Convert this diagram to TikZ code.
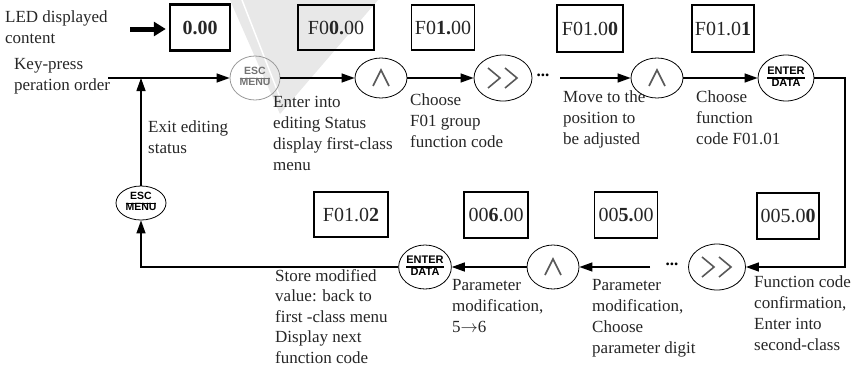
\documentclass[tikz,border=0pt]{standalone}
\usepackage{fontspec}
\setmainfont{Liberation Serif}
\setsansfont{Liberation Sans}
\usetikzlibrary{shapes.geometric,arrows.meta,calc}
\newcommand\keylab[3]{{\fontsize{#3}{#3}\selectfont\sffamily\bfseries\setlength\arrayrulewidth{1.1pt}\renewcommand\arraystretch{0.95}\begin{tabular}{@{}c@{}}#1\\\hline #2\end{tabular}}}
\begin{document}
\begin{tikzpicture}[x=1pt,y=-1pt,
  txt/.style={font=\fontsize{17}{21}\selectfont, align=left, inner sep=0pt, anchor=north west, text=black!85},
  disp/.style={draw, line width=1.8pt, font=\fontsize{20}{24}\selectfont, inner sep=0pt, text=black!85},
  key/.style={ellipse, draw, line width=0.8pt, inner sep=0pt},
  conn/.style={line width=1.3pt, -{Triangle[length=13pt,width=9pt]}},
  dotsn/.style={font=\fontsize{17}{21}\selectfont\bfseries, inner sep=0pt},
  upglyph/.pic={\draw[line width=1.6pt, black!65, line join=miter] (-8,8) -- (0,-8) -- (8,8);},
  ffglyph/.pic={\draw[line width=1.6pt, black!65, line join=miter] (-15,-10) -- (-3,0) -- (-15,10);
                \draw[line width=1.6pt, black!65, line join=miter] (2,-10) -- (14,0) -- (2,10);}
]
\useasboundingbox (0,0) rectangle (861,367);
% watermark
\fill[black!9] (230,0) -- (378,0) -- (280,114) -- cycle;
\draw[white, line width=1.5pt] (242,0) -- (281,100);

% labels left
\node[txt] (led) at (5,10.5) {LED displayed\\content};
\node[txt] (kp) at (14,58) {Key-press\\peration order};
\coordinate (start) at (108,78);
\coordinate (ledstart) at (130,29);

% display boxes top
\node[disp, line width=2.5pt, minimum width=60pt, minimum height=46pt] (b0) at (200,27.5) {\textbf{0.00}};
\node[disp, minimum width=76pt, minimum height=45pt] (b1) at (336,27.5) {F0\textbf{0.}00};
\node[disp, minimum width=63pt, minimum height=45pt] (b2) at (443,27.5) {F0\textbf{1.}00};
\node[disp, minimum width=66pt, minimum height=47pt] (b3) at (590,28.5) {F01.0\textbf{0}};
\node[disp, minimum width=62pt, minimum height=47pt] (b4) at (723,28.5) {F01.0\textbf{1}};
% display boxes bottom
\node[disp, minimum width=74pt, minimum height=45pt] (b5) at (351,214.5) {F01.0\textbf{2}};
\node[disp, minimum width=64pt, minimum height=46pt] (b6) at (496,215) {00\textbf{6}.00};
\node[disp, minimum width=63pt, minimum height=46pt] (b7) at (626,215) {00\textbf{5.}00};
\node[disp, minimum width=62pt, minimum height=46pt] (b8) at (788,216) {005.0\textbf{0}};

\draw[line width=5pt, -{Triangle[length=12pt,width=14pt]}, shorten >=3pt] (ledstart) -- (b0.west |- ledstart);

% keys top row
\node[key, draw=black!40, text=black!55, minimum width=50pt, minimum height=44pt] (esc1) at (255,78) {\keylab{ESC}{MENU}{10.5}};
\node[key, minimum width=52pt, minimum height=40pt] (up1) at (381,78) {};
\pic at (up1) {upglyph};
\node[key, minimum width=58pt, minimum height=46pt] (ff1) at (503,78) {};
\pic at (ff1) {ffglyph};
\node[dotsn] (dots1) at (543,75) {...};
\coordinate (s1) at (560,78);
\node[key, minimum width=52pt, minimum height=40pt] (up2) at (657,78) {};
\pic at (up2) {upglyph};
\node[key, minimum width=56pt, minimum height=46pt] (ent1) at (786,78) {\keylab{ENTER}{DATA}{11}};
\coordinate (rx) at (845,0);

% keys bottom row
\node[key, minimum width=57pt, minimum height=46pt] (ff2) at (717,267) {};
\pic at (ff2) {ffglyph};
\node[dotsn] (dots2) at (672,264) {...};
\coordinate (s2) at (650,267);
\node[key, minimum width=52pt, minimum height=44pt] (up3) at (553,267) {};
\pic at (up3) {upglyph};
\node[key, minimum width=52pt, minimum height=44pt] (ent2) at (425,267) {\keylab{ENTER}{DATA}{11}};
\node[key, minimum width=50pt, minimum height=34pt] (esc2) at (141,203) {\keylab{ESC}{MENU}{10.5}};

% connectors
\draw[conn] (start) -- (esc1);
\draw[conn] (esc1) -- (up1);
\draw[conn] (up1) -- (ff1);
\draw[conn] (s1) -- (up2);
\draw[conn] (up2) -- (ent1);
\draw[conn] (ent1.east) -- (ent1.east -| rx) -- (ff2.east -| rx) -- (ff2.east);
\draw[conn] (s2) -- (up3.east);
\draw[conn] (up3) -- (ent2);
\draw[conn] (ent2.west) -- (ent2.west -| esc2) -- (esc2.south);
\draw[conn] (esc2.north) -- (esc2.north |- start);

% texts
\node[txt] (t1) at (148,120.5) {Exit editing\\status};
\node[txt] (t2) at (273,96.5) {Enter into\\editing Status\\display first-class\\menu};
\node[txt] (t3) at (410,94) {Choose\\F01 group\\function code};
\node[txt] (t4) at (563,91) {Move to the\\position to\\be adjusted};
\node[txt] (t5) at (696,91) {Choose\\function\\code F01.01};
\node[txt, font=\fontsize{17}{20.5}\selectfont] (t6) at (275,269) {Store modified\\value: back to\\first -class menu\\Display next\\function code};
\node[txt] (t7) at (452,279.5) {Parameter\\modification,\\5$\to$6};
\node[txt] (t8) at (592,279.5) {Parameter\\modification,\\Choose\\parameter digit};
\node[txt] (t9) at (754,275.5) {Function code\\confirmation,\\Enter into\\second-class};
\end{tikzpicture}
\end{document}
